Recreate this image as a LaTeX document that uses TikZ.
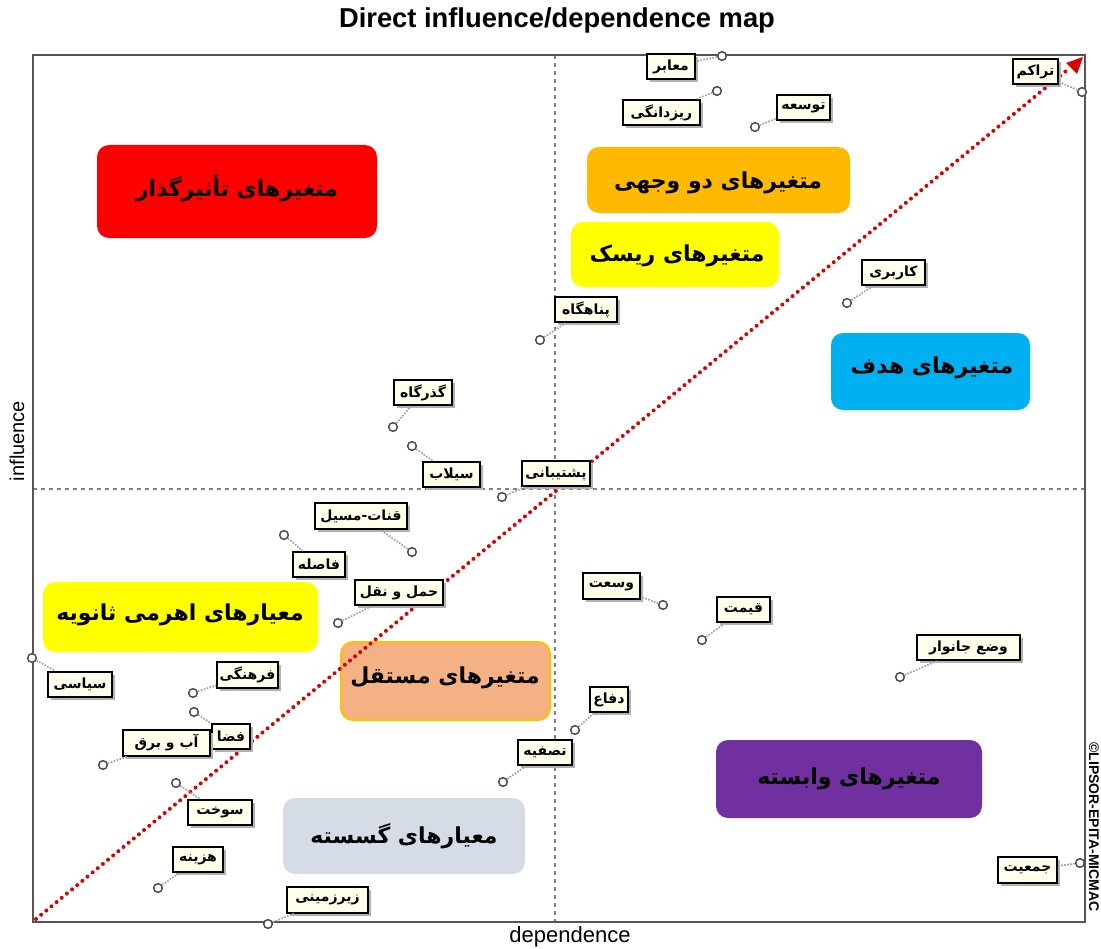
\documentclass[tikz,border=0pt]{standalone}
\usepackage{fontspec}
\setmainfont{Liberation Sans}
\newfontfamily\fa[Script=Arabic]{DejaVu Sans}
\TeXXeTstate=1
\usetikzlibrary{arrows.meta,shadows,calc}
\definecolor{frameC}{HTML}{555555}
\definecolor{lblfill}{HTML}{FFFFEC}
\definecolor{boxRed}{HTML}{FF0000}
\definecolor{boxOrange}{HTML}{FFBA00}
\definecolor{boxYellow}{HTML}{FFFF00}
\definecolor{boxBlue}{HTML}{00B0F0}
\definecolor{boxSalmon}{HTML}{F4B183}
\definecolor{boxSalmonLine}{HTML}{FFC000}
\definecolor{boxGray}{HTML}{D6DCE5}
\definecolor{boxPurple}{HTML}{7030A0}
\begin{document}
\begin{tikzpicture}[x=0.75pt,y=-0.75pt,
  lbl/.style={draw=black, line width=1.4pt, fill=lblfill, inner sep=1.5pt,
    minimum height=19pt, font=\fa\bfseries\fontsize{10.5}{12}\selectfont,
    drop shadow={shadow xshift=2.2pt, shadow yshift=-2.2pt, fill=gray!60, opacity=1}},
  mk/.style={circle, draw=gray!60!black, line width=1.1pt, fill=white, inner sep=0pt, minimum size=6.5pt},
  leader/.style={draw=gray!70, line width=1.3pt, densely dotted},
  bigtxt/.style={font=\fa\bfseries\fontsize{16.5}{19}\selectfont, text=black},
  bigbox/.style={rounded corners=9pt}
]
\useasboundingbox (0,0) rectangle (1101,949);
\fill[white] (0,0) rectangle (1101,949);

% coloured zones
\fill[bigbox, boxRed] (97,145) rectangle (377,238);
\node[bigtxt] (tzRed) at (237,188) {\beginR متغیرهای تأثیرگذار\endR};
\fill[bigbox, boxOrange] (587,147) rectangle (850,213);
\node[bigtxt] (tzOrange) at (718,183) {\beginR متغیرهای دو وجهی\endR};
\fill[bigbox, boxYellow] (571,222) rectangle (779,287);
\node[bigtxt] (tzRisk) at (677,256) {\beginR متغیرهای ریسک\endR};
\fill[bigbox, boxBlue] (831,333) rectangle (1030,410);
\node[bigtxt] (tzBlue) at (932,368) {\beginR متغیرهای هدف\endR};
\fill[bigbox, boxYellow] (43,582) rectangle (318,652);
\node[bigtxt] (tzLever) at (180,615) {\beginR معیارهای اهرمی ثانویه\endR};
\filldraw[bigbox, fill=boxSalmon, draw=boxSalmonLine, line width=1.5pt] (341,642) rectangle (550,720);
\node[bigtxt] (tzSalmon) at (445,678) {\beginR متغیرهای مستقل\endR};
\fill[bigbox, boxGray] (283,798) rectangle (525,874);
\node[bigtxt] (tzGray) at (404,836) {\beginR معیارهای گسسته\endR};
\fill[bigbox, boxPurple] (716,740) rectangle (982,818);
\node[bigtxt] (tzPurple) at (849,779) {\beginR متغیرهای وابسته\endR};

% axes
\draw[gray, dashed, line width=0.8pt] (555,55) -- (555,922);
\draw[gray, dashed, line width=0.8pt] (33,489) -- (1085,489);
\draw[frameC, line width=1.5pt] (33,55) rectangle (1085,922);

% diagonal
\coordinate (origin) at (36,919);
\coordinate (tip) at (1083,57);
\draw[red!85!black, line width=3pt, line cap=round, dash pattern=on 0pt off 5pt] (origin) -- ($(origin)!0.985!(tip)$);
\fill[red!85!black] (tip) -- ++(-17,6) -- ++(11,11) -- cycle;

% titles
\node[font=\bfseries\fontsize{20.5}{24}\selectfont] (title) at (557,20) {Direct influence/dependence map};
\node[font=\fontsize{15}{17}\selectfont, rotate=90] (yl) at (17,441) {influence};
\node[font=\fontsize{16.5}{19}\selectfont] (xl) at (570,937) {dependence};
\node[font=\bfseries\fontsize{10.5}{12}\selectfont, rotate=-90] (copy) at (1094,827) {©LIPSOR-EPITA-MICMAC};

% labels and markers
\newcommand\lab[5]{%
  \node[mk] (#1m) at (#4) {};
  \node[lbl, minimum width=#3*0.75pt] (#1) at (#2) {#5};
  \draw[leader] (#1m) -- (#1);
}
\lab{maaber}{671,66.5}{48}{722,56}{\beginR معابر\endR}
\lab{rizdanegi}{661.5,112.5}{77}{717,91}{\beginR ریزدانگی\endR}
\lab{tosee}{803.5,107.5}{53}{755,127}{\beginR توسعه\endR}
\lab{tarakom}{1035.5,71.5}{45}{1082,92}{\beginR تراکم\endR}
\lab{karbari}{893.5,272.5}{63}{847,303}{\beginR کاربری\endR}
\lab{panahgah}{586,309.5}{62}{540,340}{\beginR پناهگاه\endR}
\lab{gozargah}{423,392.5}{58}{393,427}{\beginR گذرگاه\endR}
\lab{silab}{451.5,474.5}{57}{412,446}{\beginR سیلاب\endR}
\lab{poshtibani}{556,473.5}{68}{502,497}{\beginR پشتیبانی\endR}
\lab{qanat}{361,516}{92}{412,552}{\beginR قنات-مسیل\endR}
\lab{fasele}{319,564.5}{52}{284,535}{\beginR فاصله\endR}
\lab{haml}{399,592.5}{88}{338,623}{\beginR حمل و نقل\endR}
\lab{siasi}{80,684.5}{64}{32,658}{\beginR سیاسی\endR}
\lab{farhangi}{247.5,675}{61}{193,693}{\beginR فرهنگی\endR}
\lab{faza}{231,736.5}{38}{194,712}{\beginR فضا\endR}
\lab{abobargh}{166.5,743}{87}{103,765}{\beginR آب و برق\endR}
\lab{sukht}{220,812.5}{64}{176,783}{\beginR سوخت\endR}
\lab{hazine}{198,859.5}{50}{158,888}{\beginR هزینه\endR}
\lab{zirzamini}{327.5,900}{81}{268,924}{\beginR زیرزمینی\endR}
\lab{vosat}{611.5,586}{57}{663,605}{\beginR وسعت\endR}
\lab{gheymat}{743.5,609.5}{53}{702,640}{\beginR قیمت\endR}
\lab{defa}{609,699.5}{38}{575,730}{\beginR دفاع\endR}
\lab{tasfie}{545,752.5}{54}{503,782}{\beginR تصفیه\endR}
\lab{vaz}{968.5,647.5}{103}{900,677}{\beginR وضع جانوار\endR}
\lab{jamiat}{1027.5,870}{59}{1080,863}{\beginR جمعیت\endR}
\end{tikzpicture}
\end{document}
